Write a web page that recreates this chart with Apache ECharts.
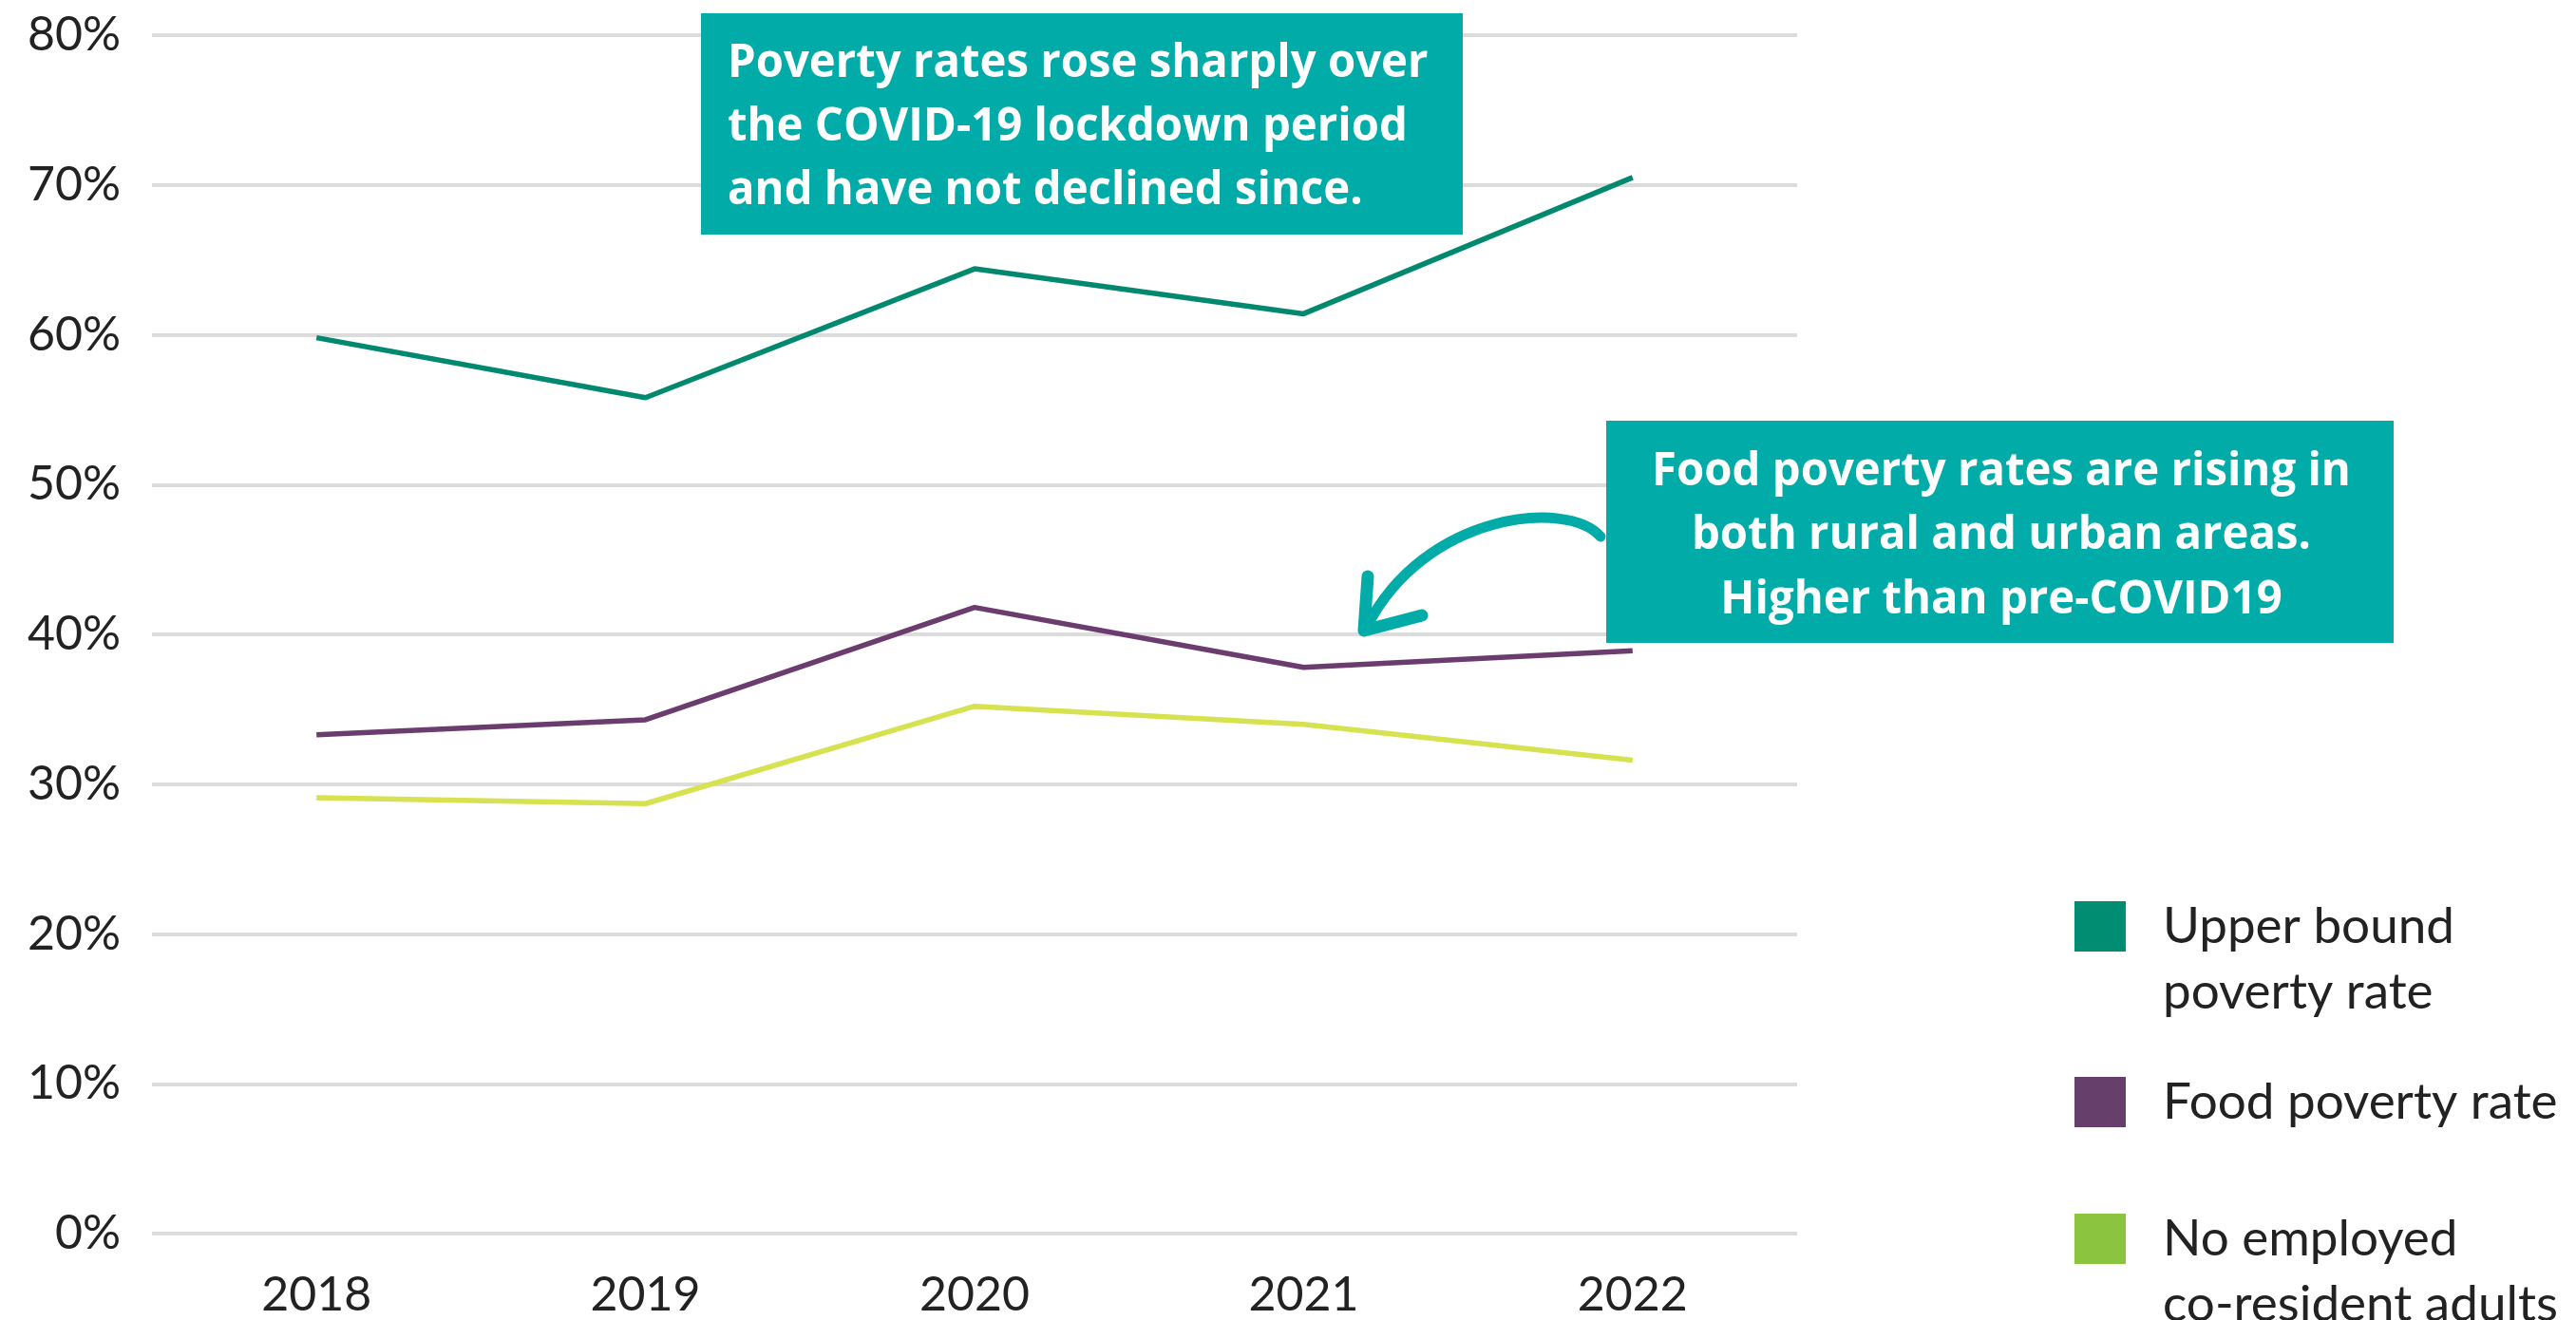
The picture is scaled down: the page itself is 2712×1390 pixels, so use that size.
<!DOCTYPE html>
<html>
<head>
<meta charset="utf-8">
<script src="https://cdn.jsdelivr.net/npm/echarts@6/dist/echarts.min.js"></script>
<style>
html,body{margin:0;padding:0;background:#fff;}
#main{width:2712px;height:1390px;}
</style>
</head>
<body>
<div id="main"></div>
<script>
var years = ['2018', '2019', '2020', '2021', '2022'];
var upperBound = [59.8, 55.8, 64.4, 61.4, 70.5];
var foodPoverty = [33.3, 34.3, 41.8, 37.8, 38.9];
var noEmployed = [29.1, 28.7, 35.2, 34.0, 31.6];
var seriesNames = ['Upper bound\npoverty rate', 'Food poverty rate', 'No employed\nco-resident adults'];
var yTicks = [0, 10, 20, 30, 40, 50, 60, 70, 80];

var lineColors = ['#00896f', '#6b3d6f', '#d6e24f'];
var legendColors = ['#008d71', '#673f6b', '#8bc53f'];
var teal = '#00aba8';
var font = 'Lato, "Noto Sans", sans-serif';
var boxFont = 'bold 49px "Open Sans", sans-serif';

var chart = echarts.init(document.getElementById('main'), null, {renderer: 'canvas'});

var legendTops = [872, 1126, 1201];
var legends = seriesNames.map(function (n, i) {
  return {
    left: 2184,
    top: legendTops[i],
    padding: 0,
    orient: 'vertical',
    icon: 'rect',
    itemWidth: 54,
    itemHeight: 53,
    selectedMode: false,
    formatter: function (name) {
      return name.indexOf('\n') >= 0 ? ' \n' + name : name;
    },
    data: [{
      name: n,
      itemStyle: {color: legendColors[i], borderWidth: 0},
      textStyle: {
        fontFamily: font, fontSize: 53, color: '#222', lineHeight: 69,
        padding: [0, 0, 0, 34]
      }
    }]
  };
});

var series = [upperBound, foodPoverty, noEmployed].map(function (d, i) {
  return {
    name: seriesNames[i],
    type: 'line',
    data: d,
    symbol: 'none',
    silent: true,
    lineStyle: {color: lineColors[i], width: 5.5},
    itemStyle: {color: legendColors[i]},
    z: 3 - i
  };
});

chart.setOption({
  animation: false,
  backgroundColor: '#fff',
  legend: legends,
  grid: {left: 160, width: 1732, top: 37, height: 1262},
  xAxis: {
    type: 'category',
    data: years,
    boundaryGap: true,
    axisLine: {show: false},
    axisTick: {show: false},
    axisLabel: {fontFamily: font, fontSize: 50, color: '#222', margin: 40}
  },
  yAxis: {
    type: 'value',
    min: yTicks[0],
    max: yTicks[yTicks.length - 1],
    interval: yTicks[1] - yTicks[0],
    axisLine: {show: false},
    axisTick: {show: false},
    splitLine: {lineStyle: {color: '#dcdcdc', width: 4}},
    axisLabel: {fontFamily: font, fontSize: 50, color: '#222', margin: 33, formatter: '{value}%'}
  },
  series: series,
  graphic: [
    {type: 'rect', shape: {x: 738, y: 14, width: 802, height: 233}, style: {fill: teal}, z: 10},
    {type: 'text', x: 766, y: 34, scaleX: 0.965, z: 11,
      style: {text: 'Poverty rates rose sharply over\nthe COVID-19 lockdown period\nand have not declined since.',
        font: boxFont, fill: '#fff', lineHeight: 67, align: 'left', verticalAlign: 'top'}},
    {type: 'rect', shape: {x: 1691, y: 443, width: 829, height: 234}, style: {fill: teal}, z: 10},
    {type: 'text', x: 2107, y: 463, scaleX: 0.965, z: 11,
      style: {text: 'Food poverty rates are rising in\nboth rural and urban areas.\nHigher than pre-COVID19',
        font: boxFont, fill: '#fff', lineHeight: 67.5, align: 'center', verticalAlign: 'top'}},
    {type: 'bezierCurve', z: 10,
      shape: {x1: 1685, y1: 565, cpx1: 1650, cpy1: 525, cpx2: 1500, cpy2: 540, x2: 1439, y2: 660},
      style: {stroke: teal, lineWidth: 11, fill: null, lineCap: 'round'}},
    {type: 'polyline', z: 10,
      shape: {points: [[1440, 607], [1436, 664], [1497, 648]]},
      style: {stroke: teal, lineWidth: 13, fill: null, lineCap: 'round', lineJoin: 'round'}}
  ]
});
</script>
</body>
</html>
